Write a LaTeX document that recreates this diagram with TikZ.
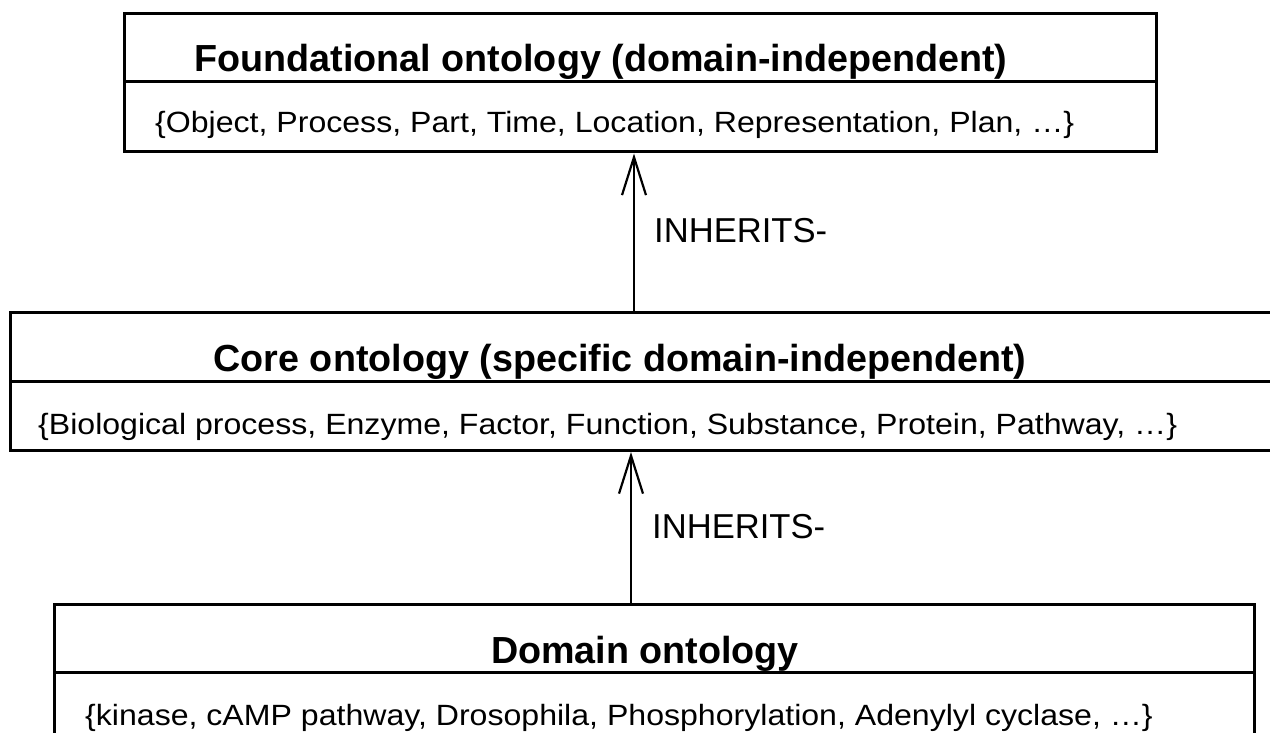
\documentclass[tikz,border=0pt]{standalone}
\usepackage{fontspec}
\setmainfont{Liberation Sans}
\newfontfamily\listfont[FakeStretch=1.095]{Liberation Sans}
\usetikzlibrary{positioning,arrows.meta}

\begin{document}
\begin{tikzpicture}[
    x=1pt, y=-1pt,
    layer/.style={draw, rectangle, line width=3pt, inner sep=0pt, anchor=north west},
    divider/.style={line width=3pt},
    heading/.style={font=\fontsize{37.7}{40}\selectfont\bfseries, inner sep=0pt, anchor=base},
    members/.style={font=\listfont\fontsize{29.3}{32}\selectfont, inner sep=0pt, anchor=base west},
    inherits/.style={line width=2.2pt, -{Straight Barb[length=38pt,width=24pt,line width=2.2pt]}},
    relname/.style={font=\fontsize{34.6}{36}\selectfont, inner sep=0pt, anchor=base west}
]
    \useasboundingbox (0,0) rectangle (1270,733);

    \node[layer, minimum width=1032pt, minimum height=138pt] (found) at (123,12.5) {};
    \node[layer, minimum width=1281pt, minimum height=138pt] (core) at (9,311) {};
    \node[layer, minimum width=1200pt, minimum height=160pt] (domain) at (53,603) {};

    \draw[divider] ([yshift=-69.5pt]found.north west) -- ([yshift=-69.5pt]found.north east);
    \draw[divider] ([yshift=-70pt]core.north west) -- ([yshift=-70pt]core.north east);
    \draw[divider] ([yshift=-69.5pt]domain.north west) -- ([yshift=-69.5pt]domain.north east);

    \node[heading] (foundtitle) at (601,72) {Foundational ontology (domain-independent)};
    \node[members] (foundlist) at (155,133) {\{Object, Process, Part, Time, Location, Representation, Plan, …\}};
    \node[heading] (coretitle) at (620,371) {Core ontology (specific domain-independent)};
    \node[members] (corelist) at (38,434) {\{Biological process, Enzyme, Factor, Function, Substance, Protein, Pathway, …\}};
    \node[heading] (domaintitle) at (645,663) {Domain ontology};
    \node[members] (domainlist) at (85,725) {\{kinase, cAMP pathway, Drosophila, Phosphorylation, Adenylyl cyclase, …\}};

    \coordinate (upper) at (634,0);
    \coordinate (lower) at (631,0);
    \draw[inherits] (core.north -| upper) -- (found.south -| upper);
    \draw[inherits] (domain.north -| lower) -- (core.south -| lower);
    \node[relname] (upperlabel) at (654,243) {INHERITS-};
    \node[relname] (lowerlabel) at (652,538) {INHERITS-};
\end{tikzpicture}
\end{document}
